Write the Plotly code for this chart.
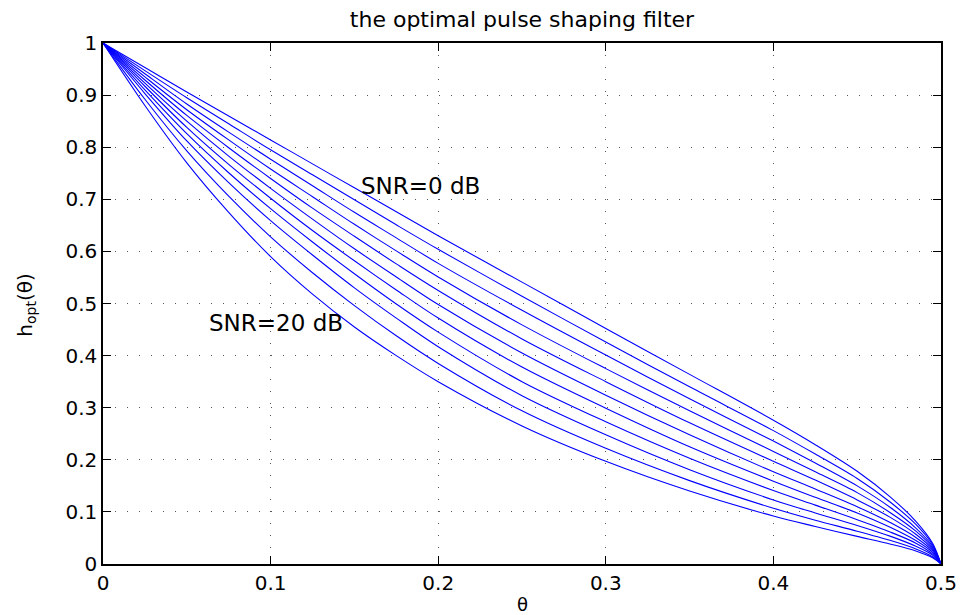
import plotly.graph_objects as go

# theta grid (x values)
theta = [0, 0.025, 0.05, 0.075, 0.1, 0.125, 0.15, 0.175, 0.2, 0.25, 0.3, 0.35,
         0.4, 0.425, 0.45, 0.47, 0.485, 0.495, 0.5]

snr_db = [0, 2, 4, 6, 8, 10, 12, 14, 16, 18, 20]

h_snr0 = [1, 0.953, 0.906, 0.860, 0.814, 0.768, 0.722, 0.676, 0.630, 0.541, 0.452, 0.364,
          0.276, 0.229, 0.178, 0.128, 0.082, 0.040, 0]
h_snr2 = [1, 0.947, 0.895, 0.845, 0.795, 0.747, 0.699, 0.651, 0.604, 0.514, 0.426, 0.340,
          0.256, 0.211, 0.164, 0.118, 0.076, 0.037, 0]
h_snr4 = [1, 0.941, 0.883, 0.829, 0.777, 0.726, 0.675, 0.626, 0.577, 0.487, 0.401, 0.317,
          0.236, 0.194, 0.150, 0.108, 0.069, 0.034, 0]
h_snr6 = [1, 0.935, 0.872, 0.814, 0.758, 0.705, 0.652, 0.601, 0.551, 0.459, 0.375, 0.294,
          0.216, 0.177, 0.137, 0.098, 0.063, 0.031, 0]
h_snr8 = [1, 0.929, 0.861, 0.799, 0.740, 0.683, 0.629, 0.576, 0.525, 0.432, 0.350, 0.271,
          0.197, 0.161, 0.123, 0.089, 0.057, 0.028, 0]
h_snr10 = [1, 0.923, 0.850, 0.783, 0.721, 0.662, 0.605, 0.551, 0.498, 0.405, 0.324, 0.248,
           0.177, 0.144, 0.110, 0.079, 0.051, 0.025, 0]
h_snr12 = [1, 0.917, 0.838, 0.767, 0.702, 0.640, 0.582, 0.526, 0.472, 0.378, 0.299, 0.225,
           0.159, 0.128, 0.098, 0.070, 0.045, 0.022, 0]
h_snr14 = [1, 0.910, 0.826, 0.751, 0.682, 0.618, 0.557, 0.499, 0.445, 0.350, 0.273, 0.203,
           0.141, 0.113, 0.085, 0.061, 0.040, 0.019, 0]
h_snr16 = [1, 0.903, 0.812, 0.732, 0.659, 0.593, 0.530, 0.472, 0.417, 0.323, 0.248, 0.181,
           0.123, 0.098, 0.074, 0.053, 0.034, 0.017, 0]
h_snr18 = [1, 0.892, 0.793, 0.706, 0.628, 0.559, 0.496, 0.438, 0.385, 0.294, 0.222, 0.160,
           0.107, 0.084, 0.063, 0.045, 0.029, 0.014, 0]
h_snr20 = [1, 0.880, 0.770, 0.675, 0.590, 0.518, 0.455, 0.400, 0.350, 0.265, 0.197, 0.140,
           0.092, 0.072, 0.053, 0.038, 0.025, 0.012, 0]

curves = [h_snr0, h_snr2, h_snr4, h_snr6, h_snr8, h_snr10,
          h_snr12, h_snr14, h_snr16, h_snr18, h_snr20]

x_tickvals = [0, 0.1, 0.2, 0.3, 0.4, 0.5]
x_ticktext = ["0", "0.1", "0.2", "0.3", "0.4", "0.5"]
y_tickvals = [0, 0.1, 0.2, 0.3, 0.4, 0.5, 0.6, 0.7, 0.8, 0.9, 1]
y_ticktext = ["0", "0.1", "0.2", "0.3", "0.4", "0.5", "0.6", "0.7", "0.8", "0.9", "1"]

FONT = "DejaVu Sans, Liberation Sans, Arial, sans-serif"

fig = go.Figure()
for snr, h in zip(snr_db, curves):
    fig.add_trace(go.Scatter(
        x=theta, y=h, mode="lines", name=f"SNR={snr} dB",
        line=dict(color="#0000ff", width=1.1, shape="spline", smoothing=0.9),
        showlegend=False, hoverinfo="skip"))

axis_common = dict(
    showline=True, linecolor="black", linewidth=1.5, mirror="ticks",
    ticks="inside", ticklen=8, tickwidth=1, tickcolor="black",
    showgrid=True, gridcolor="#555555", gridwidth=1, griddash="1px,11px",
    zeroline=False, tickfont=dict(family=FONT, size=20, color="black"),
)

fig.update_xaxes(range=[0, 0.5], tickvals=x_tickvals, ticktext=x_ticktext, **axis_common)
fig.update_yaxes(range=[0, 1], tickvals=y_tickvals, ticktext=y_ticktext, **axis_common)

fig.update_layout(
    width=969, height=615,
    margin=dict(l=103, r=21, t=43, b=51),
    plot_bgcolor="white", paper_bgcolor="white",
    title=dict(text="the optimal pulse shaping filter", x=0.5, xref="paper", xanchor="center",
               y=1 - 19 / 615, yref="container", yanchor="middle",
               font=dict(family=FONT, size=22, color="black")),
    annotations=[
        dict(text="SNR=0 dB", x=0.153, y=0.7255, xref="x", yref="y",
             xanchor="left", yanchor="middle", showarrow=False,
             font=dict(family=FONT, size=23, color="black")),
        dict(text="SNR=20 dB", x=0.0623, y=0.4635, xref="x", yref="y",
             xanchor="left", yanchor="middle", showarrow=False,
             font=dict(family=FONT, size=23, color="black")),
        dict(text="h<sub>opt</sub>(θ)", x=-0.0923, y=0.497, xref="paper", yref="paper",
             textangle=-90, xanchor="center", yanchor="middle", showarrow=False,
             font=dict(family=FONT, size=20, color="black")),
        dict(text="θ", x=0.5, y=-0.0557, xref="paper", yref="paper",
             xanchor="center", yanchor="top", showarrow=False, borderpad=0,
             font=dict(family=FONT, size=18, color="black")),
    ],
)

fig.write_html("out.html")
